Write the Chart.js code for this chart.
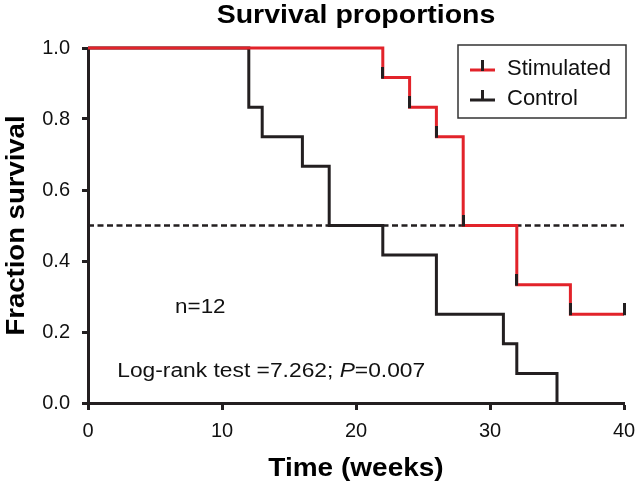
<!DOCTYPE html>
<html>
<head>
<meta charset="utf-8">
<title>Survival proportions</title>
<script src="https://cdn.jsdelivr.net/npm/chart.js@4"></script>
<style>
  html, body { margin: 0; padding: 0; background: #fff; }
</style>
</head>
<body>
<canvas id="survivalChart" width="636" height="485"></canvas>
<script>
// Kaplan-Meier steps (time in weeks, fraction surviving)
const stimTimes = [0, 22, 24, 26, 28, 32, 36, 40];
const stimSurvival = [1, 0.9167, 0.8333, 0.75, 0.5, 0.3333, 0.25, 0.25];
const ctrlTimes = [0, 12, 13, 16, 18, 22, 26, 31, 32, 35];
const ctrlSurvival = [1, 0.8333, 0.75, 0.6667, 0.5, 0.4167, 0.25, 0.1667, 0.0833, 0];
const medianTimes = [0, 40];
const medianLevel = [0.5, 0.5];
const xTicks = [0, 10, 20, 30, 40];
const yTicks = [0, 0.2, 0.4, 0.6, 0.8, 1.0];
const seriesNames = ["Stimulated", "Control"];
const chartTitle = "Survival proportions";
const xTitle = "Time (weeks)";
const yTitle = "Fraction survival";
const sampleNote = "n=12";
const testNote = ["Log-rank test =7.262; ", "P", "=0.007"];

const RED = "#e2232a";
const BLACK = "#231f20";
const FONT = "'Liberation Sans', Arial, Helvetica, sans-serif";

// little black tick that sits on top of each step (like the prism marks)
function stepMark() {
  const c = document.createElement("canvas");
  c.width = 3;
  c.height = 22;
  const g = c.getContext("2d");
  g.fillStyle = BLACK;
  g.fillRect(0, 0, 3, 12);
  return c;
}
const mark = stepMark();

function toPoints(xs, ys) {
  return xs.map((x, i) => ({ x: x, y: ys[i] }));
}

// the original figure's text is a bit wide, so stretch it along the text
function wideText(ctx, text, x, y, sx, align, angle) {
  ctx.save();
  ctx.translate(x, y);
  if (angle) ctx.rotate(angle);
  ctx.scale(sx, 1);
  ctx.textAlign = align || "left";
  ctx.fillText(text, 0, 0);
  ctx.restore();
}

// titles, legend box and text notes
const notesPlugin = {
  id: "notes",
  afterDraw(chart) {
    const ctx = chart.ctx;
    const area = chart.chartArea;
    const xs = chart.scales.x;
    const ys = chart.scales.y;
    const midX = (area.left + area.right) / 2;
    ctx.save();
    ctx.fillStyle = "#000";
    ctx.textBaseline = "alphabetic";

    // titles
    ctx.font = "bold 25px " + FONT;
    wideText(ctx, chartTitle, midX, 23, 1.14, "center");
    wideText(ctx, xTitle, midX, 476, 1.12, "center");
    wideText(ctx, yTitle, 24, (area.top + area.bottom) / 2, 1.1, "center", -Math.PI / 2);

    // legend
    const bx = 458, by = 45, bw = 168, bh = 73;
    ctx.strokeStyle = "#333";
    ctx.lineWidth = 1.5;
    ctx.strokeRect(bx, by, bw, bh);
    const rows = [
      { name: seriesNames[0], color: RED, y: 70 },
      { name: seriesNames[1], color: BLACK, y: 100 }
    ];
    ctx.font = "22px " + FONT;
    rows.forEach(r => {
      ctx.strokeStyle = r.color;
      ctx.lineWidth = 3;
      ctx.beginPath();
      ctx.moveTo(470, r.y);
      ctx.lineTo(495, r.y);
      ctx.stroke();
      ctx.strokeStyle = BLACK;
      ctx.beginPath();
      ctx.moveTo(482.5, r.y + 1);
      ctx.lineTo(482.5, r.y - 10);
      ctx.stroke();
      ctx.fillStyle = "#111";
      ctx.fillText(r.name, 507, r.y + 5);
    });

    // n=12
    ctx.font = "20px " + FONT;
    ctx.fillStyle = "#111";
    wideText(ctx, sampleNote, xs.getPixelForValue(6.5), ys.getPixelForValue(0.254), 1.12);

    // log-rank line, P in italics
    let tx = xs.getPixelForValue(2.18);
    const ty = ys.getPixelForValue(0.073);
    testNote.forEach((part, i) => {
      ctx.font = (i === 1 ? "italic " : "") + "20px " + FONT;
      wideText(ctx, part, tx, ty, 1.14);
      tx += ctx.measureText(part).width * 1.14;
    });
    ctx.restore();
  }
};

new Chart(document.getElementById("survivalChart"), {
  type: "line",
  data: {
    datasets: [
      {
        label: seriesNames[0],
        data: toPoints(stimTimes, stimSurvival),
        borderColor: RED,
        borderWidth: 3,
        stepped: true,
        pointStyle: mark,
        pointRadius: c => (c.dataIndex === 0 ? 0 : 4),
        clip: false
      },
      {
        label: seriesNames[1],
        data: toPoints(ctrlTimes, ctrlSurvival),
        borderColor: BLACK,
        borderWidth: 3,
        stepped: true,
        pointRadius: 0,
        clip: false
      },
      {
        label: "median",
        data: toPoints(medianTimes, medianLevel),
        borderColor: BLACK,
        borderWidth: 2.5,
        borderDash: [6, 3.5],
        pointRadius: 0,
        clip: false
      }
    ]
  },
  options: {
    responsive: false,
    devicePixelRatio: 1,
    animation: false,
    events: [],
    layout: { padding: { left: 0, right: 12, top: 48, bottom: 0 } },
    plugins: {
      legend: { display: false },
      tooltip: { enabled: false },
      title: { display: false }
    },
    scales: {
      x: {
        type: "linear",
        min: 0,
        max: 40,
        afterBuildTicks: s => { s.ticks = xTicks.map(v => ({ value: v })); },
        afterFit: s => { s.height = 82; s.paddingLeft = 0; s.paddingRight = 0; },
        border: { display: true, color: BLACK, width: 3 },
        grid: { drawOnChartArea: false, drawTicks: true, tickLength: 7, tickColor: BLACK, tickWidth: 3 },
        ticks: { color: "#111", padding: 9, font: { family: FONT, size: 20 } }
      },
      y: {
        min: 0,
        max: 1,
        afterBuildTicks: s => { s.ticks = yTicks.map(v => ({ value: v })); },
        afterFit: s => { s.width = 88; s.paddingTop = 0; s.paddingBottom = 0; },
        border: { display: true, color: BLACK, width: 3 },
        grid: { drawOnChartArea: false, drawTicks: true, tickLength: 6, tickColor: BLACK, tickWidth: 3 },
        ticks: {
          color: "#111",
          padding: 12,
          font: { family: FONT, size: 20 },
          callback: v => v.toFixed(1)
        }
      }
    }
  },
  plugins: [notesPlugin]
});
</script>
</body>
</html>
